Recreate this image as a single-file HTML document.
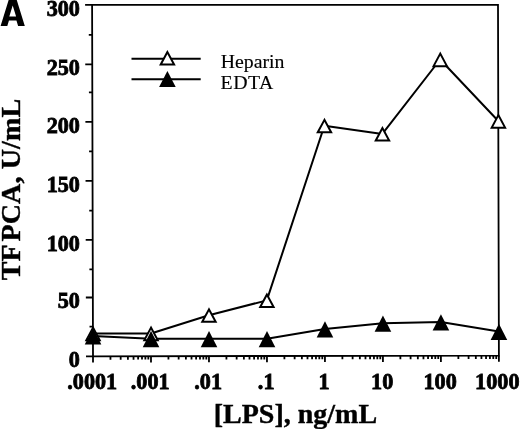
<!DOCTYPE html>
<html><head><meta charset="utf-8"><style>
html,body{margin:0;padding:0;background:#fff;width:520px;height:429px;overflow:hidden}
svg{display:block;filter:blur(0.3px);font-family:"Liberation Serif",serif}
</style></head><body><svg width="520" height="429" viewBox="0 0 520 429"><path d="M92.1 4.9L498.0 4.8L498.9 355.6L93.0 356.3Z" fill="none" stroke="#000" stroke-width="1.8"/><path d="M86.00 356.30H93.00M89.52 326.60H92.92M85.85 297.50H92.85M89.38 269.40H92.78M85.70 239.90H92.70M89.23 210.70H92.63M85.55 180.90H92.55M89.08 151.40H92.48M85.40 121.80H92.40M88.92 92.40H92.32M85.25 64.30H92.25M88.78 34.80H92.18M85.10 4.85H92.10M93.00 356.30V362.50M110.46 356.27V359.67M120.67 356.25V359.65M127.91 356.24V359.64M133.53 356.23V359.63M138.12 356.22V359.62M142.00 356.22V359.62M145.37 356.21V359.61M148.33 356.20V359.60M150.99 356.20V362.40M168.44 356.17V359.57M178.65 356.15V359.55M185.90 356.14V359.54M191.52 356.13V359.53M196.11 356.12V359.52M199.99 356.12V359.52M203.35 356.11V359.51M206.32 356.10V359.50M208.97 356.10V362.30M226.43 356.07V359.47M236.64 356.05V359.45M243.88 356.04V359.44M249.50 356.03V359.43M254.09 356.02V359.42M257.98 356.02V359.42M261.34 356.01V359.41M264.30 356.00V359.40M266.96 356.00V362.20M284.41 355.97V359.37M294.62 355.95V359.35M301.87 355.94V359.34M307.49 355.93V359.33M312.08 355.92V359.32M315.96 355.92V359.32M319.32 355.91V359.31M322.29 355.90V359.30M324.94 355.90V362.10M342.40 355.87V359.27M352.61 355.85V359.25M359.85 355.84V359.24M365.47 355.83V359.23M370.06 355.82V359.22M373.95 355.82V359.22M377.31 355.81V359.21M380.28 355.80V359.20M382.93 355.80V362.00M400.38 355.77V359.17M410.59 355.75V359.15M417.84 355.74V359.14M423.46 355.73V359.13M428.05 355.72V359.12M431.93 355.72V359.12M435.29 355.71V359.11M438.26 355.70V359.10M440.91 355.70V361.90M458.37 355.67V359.07M468.58 355.65V359.05M475.83 355.64V359.04M481.44 355.63V359.03M486.04 355.62V359.02M489.92 355.62V359.02M493.28 355.61V359.01M496.25 355.60V359.00M498.90 355.60V361.80" stroke="#000" stroke-width="1.8" fill="none"/><polyline points="92.94,333.50 150.93,333.50 208.87,315.20 266.81,300.40 324.35,125.70 382.36,133.90 440.15,59.50 498.30,121.00" fill="none" stroke="#000" stroke-width="2.0" stroke-linejoin="round"/><polyline points="92.95,336.00 150.94,338.80 208.93,338.80 266.91,338.80 324.87,329.00 382.84,323.30 440.83,321.90 498.84,331.40" fill="none" stroke="#000" stroke-width="2.0" stroke-linejoin="round"/><path d="M93.04 327.65L86.34 340.15L99.74 340.15Z" fill="#fff" stroke="#000" stroke-width="2.0"/><path d="M151.03 327.65L144.33 340.15L157.73 340.15Z" fill="#fff" stroke="#000" stroke-width="2.0"/><path d="M208.97 309.35L202.27 321.85L215.67 321.85Z" fill="#fff" stroke="#000" stroke-width="2.0"/><path d="M266.91 294.55L260.21 307.05L273.61 307.05Z" fill="#fff" stroke="#000" stroke-width="2.0"/><path d="M324.45 119.85L317.75 132.35L331.15 132.35Z" fill="#fff" stroke="#000" stroke-width="2.0"/><path d="M382.46 128.05L375.76 140.55L389.16 140.55Z" fill="#fff" stroke="#000" stroke-width="2.0"/><path d="M440.25 53.65L433.55 66.15L446.95 66.15Z" fill="#fff" stroke="#000" stroke-width="2.0"/><path d="M498.40 115.15L491.70 127.65L505.10 127.65Z" fill="#fff" stroke="#000" stroke-width="2.0"/><path d="M93.05 328.30L84.75 344.50L101.35 344.50Z"/><path d="M151.04 331.10L142.74 347.30L159.34 347.30Z"/><path d="M209.03 331.10L200.73 347.30L217.33 347.30Z"/><path d="M267.01 331.10L258.71 347.30L275.31 347.30Z"/><path d="M324.97 321.30L316.67 337.50L333.27 337.50Z"/><path d="M382.94 315.60L374.64 331.80L391.24 331.80Z"/><path d="M440.93 314.20L432.63 330.40L449.23 330.40Z"/><path d="M498.94 323.70L490.64 339.90L507.24 339.90Z"/><path d="M131.5 58.8H200.7M131.5 79.2H200.7" stroke="#000" stroke-width="2.0"/><path d="M167.40 52.05L160.70 64.55L174.10 64.55Z" fill="#fff" stroke="#000" stroke-width="2.0"/><path d="M167.40 70.90L159.10 87.10L175.70 87.10Z"/><g font-family="Liberation Serif" font-weight="bold" stroke="#000" stroke-width="0.8" font-size="22.2"><text transform="translate(79.9 367.20) scale(1 1.04)" text-anchor="end">0</text><text transform="translate(79.9 308.40) scale(1 1.04)" text-anchor="end">50</text><text transform="translate(79.9 250.80) scale(1 1.04)" text-anchor="end">100</text><text transform="translate(79.9 191.80) scale(1 1.04)" text-anchor="end">150</text><text transform="translate(79.9 132.70) scale(1 1.04)" text-anchor="end">200</text><text transform="translate(79.9 75.20) scale(1 1.04)" text-anchor="end">250</text><text transform="translate(79.9 15.75) scale(1 1.04)" text-anchor="end">300</text></g><g font-family="Liberation Serif" font-weight="bold" stroke="#000" stroke-width="0.8" font-size="22.2"><text transform="translate(92.20 388.8) scale(1 1.04)" text-anchor="middle">.0001</text><text transform="translate(150.19 388.8) scale(1 1.04)" text-anchor="middle">.001</text><text transform="translate(208.17 388.8) scale(1 1.04)" text-anchor="middle">.01</text><text transform="translate(266.16 388.8) scale(1 1.04)" text-anchor="middle">.1</text><text transform="translate(324.14 388.8) scale(1 1.04)" text-anchor="middle">1</text><text transform="translate(382.13 388.8) scale(1 1.04)" text-anchor="middle">10</text><text transform="translate(440.11 388.8) scale(1 1.04)" text-anchor="middle">100</text><text transform="translate(497.30 388.8) scale(1 1.04)" text-anchor="middle">1000</text></g><text font-family="Liberation Serif" font-weight="bold" stroke="#000" stroke-width="0.4" font-size="28" x="295.4" y="422.6" text-anchor="middle">[LPS], ng/mL</text><g font-family="Liberation Serif" font-weight="bold" stroke="#000" stroke-width="0.4" font-size="28"><text transform="translate(20.2 280.3) rotate(-90)">TF</text><text transform="translate(20.2 241.6) rotate(-90)" letter-spacing="0.15">PCA, U/mL</text></g><g font-family="Liberation Serif" font-size="19.8" stroke="#000" stroke-width="0.15"><text x="220.7" y="67.6">Heparin</text><text x="220.6" y="88.9" letter-spacing="0.5">EDTA</text></g><path fill-rule="evenodd" d="M0.6 25.9L8.96 -1H16.44L24.8 25.9H18.1L16.45 20.6H8.95L7.3 25.9ZM12.7 5.6L9.3 16.4H16.1Z"/></svg></body></html>
